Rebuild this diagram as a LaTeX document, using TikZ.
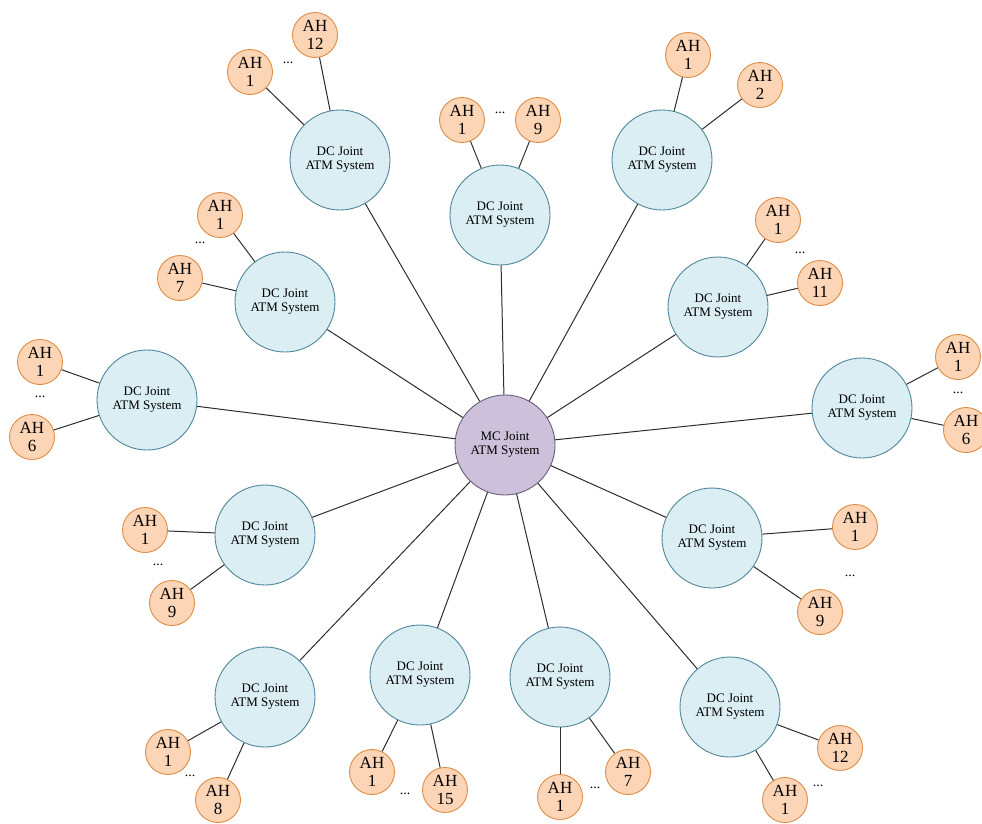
\documentclass[tikz,border=0pt]{standalone}
\usepackage{fontspec}
\setmainfont{Liberation Serif}
\definecolor{dcfill}{RGB}{218,238,243}
\definecolor{dcline}{RGB}{80,135,155}
\definecolor{ahfill}{RGB}{251,213,181}
\definecolor{ahline}{RGB}{222,140,70}
\definecolor{mcfill}{RGB}{204,192,218}
\definecolor{mcline}{RGB}{105,95,125}
\definecolor{wire}{RGB}{45,45,45}
\begin{document}
\begin{tikzpicture}[x=1pt,y=-1pt,
  dcnode/.style={circle,draw=dcline,fill=dcfill,line width=0.9pt,minimum size=100pt,inner sep=0pt,
    align=center,font=\fontsize{13}{14}\selectfont},
  mcnode/.style={dcnode,draw=mcline,fill=mcfill},
  ahnode/.style={circle,draw=ahline,fill=ahfill,line width=0.9pt,minimum size=45pt,inner sep=0pt,
    align=center,font=\fontsize{17}{18}\selectfont},
  dotsnode/.style={inner sep=0pt,font=\fontsize{14}{14}\selectfont},
  link/.style={draw=wire,line width=1pt}]
\useasboundingbox (0,0) rectangle (982,823);

% hub
\node[mcnode] (mc) at (505,445) {MC Joint\\ATM System};

% district systems
\node[dcnode] (dc1)  at (340,160) {DC Joint\\ATM System};
\node[dcnode] (dc2)  at (500,215) {DC Joint\\ATM System};
\node[dcnode] (dc3)  at (662,160) {DC Joint\\ATM System};
\node[dcnode] (dc4)  at (285,302) {DC Joint\\ATM System};
\node[dcnode] (dc5)  at (718,307) {DC Joint\\ATM System};
\node[dcnode] (dc6)  at (147,400) {DC Joint\\ATM System};
\node[dcnode] (dc7)  at (862,408) {DC Joint\\ATM System};
\node[dcnode] (dc8)  at (265,535) {DC Joint\\ATM System};
\node[dcnode] (dc9)  at (712,538) {DC Joint\\ATM System};
\node[dcnode] (dc10) at (265,697) {DC Joint\\ATM System};
\node[dcnode] (dc11) at (420,675) {DC Joint\\ATM System};
\node[dcnode] (dc12) at (560,677) {DC Joint\\ATM System};
\node[dcnode] (dc13) at (730,707) {DC Joint\\ATM System};

% hub to district links
\foreach \i in {1,...,13} \draw[link] (mc) -- (dc\i);

% airport hubs
\node[ahnode] (a1a)  at (250,72)  {AH\\1};
\node[ahnode] (a1b)  at (315,35)  {AH\\12};
\node[dotsnode] (d1) at (288,63)  {...};

\node[ahnode] (a2a)  at (462,120) {AH\\1};
\node[ahnode] (a2b)  at (538,120) {AH\\9};
\node[dotsnode] (d2) at (500,113) {...};

\node[ahnode] (a3a)  at (688,55)  {AH\\1};
\node[ahnode] (a3b)  at (760,85)  {AH\\2};

\node[ahnode] (a4a)  at (220,215) {AH\\1};
\node[ahnode] (a4b)  at (180,278) {AH\\7};
\node[dotsnode] (d4) at (200,243) {...};

\node[ahnode] (a5a)  at (778,220) {AH\\1};
\node[ahnode] (a5b)  at (820,283) {AH\\11};
\node[dotsnode] (d5) at (800,253) {...};

\node[ahnode] (a6a)  at (40,362)  {AH\\1};
\node[ahnode] (a6b)  at (32,437)  {AH\\6};
\node[dotsnode] (d6) at (40,397)  {...};

\node[ahnode] (a7a)  at (958,357) {AH\\1};
\node[ahnode] (a7b)  at (966,430) {AH\\6};
\node[dotsnode] (d7) at (958,393) {...};

\node[ahnode] (a8a)  at (145,530) {AH\\1};
\node[ahnode] (a8b)  at (172,603) {AH\\9};
\node[dotsnode] (d8) at (158,565) {...};

\node[ahnode] (a9a)  at (855,527) {AH\\1};
\node[ahnode] (a9b)  at (820,612) {AH\\9};
\node[dotsnode] (d9) at (850,576) {...};

\node[ahnode] (a10a) at (168,752) {AH\\1};
\node[ahnode] (a10b) at (218,800) {AH\\8};
\node[dotsnode] (d10) at (190,776) {...};

\node[ahnode] (a11a) at (372,772) {AH\\1};
\node[ahnode] (a11b) at (445,790) {AH\\15};
\node[dotsnode] (d11) at (405,794) {...};

\node[ahnode] (a12a) at (560,797) {AH\\1};
\node[ahnode] (a12b) at (628,772) {AH\\7};
\node[dotsnode] (d12) at (595,788) {...};

\node[ahnode] (a13a) at (785,800) {AH\\1};
\node[ahnode] (a13b) at (840,748) {AH\\12};
\node[dotsnode] (d13) at (818,786) {...};

% district to airport hub links
\foreach \i in {1,...,13} {
  \draw[link] (dc\i) -- (a\i a);
  \draw[link] (dc\i) -- (a\i b);
}
\end{tikzpicture}
\end{document}
